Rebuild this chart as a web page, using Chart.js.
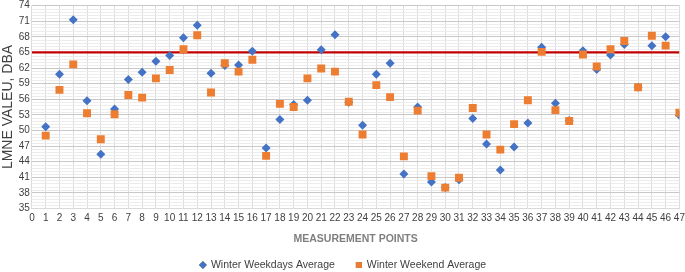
<!DOCTYPE html>
<html><head><meta charset="utf-8">
<script src="https://cdn.jsdelivr.net/npm/chart.js@4/dist/chart.umd.min.js"></script>
<style>html,body{margin:0;padding:0;background:#fff}#wrap{width:685px;height:272px}</style>
</head><body><div id="wrap"><canvas id="c" width="685" height="272"></canvas></div>
<script>
const points = [1,2,3,4,5,6,7,8,9,10,11,12,13,14,15,16,17,18,19,20,21,22,23,24,25,26,27,28,29,30,31,32,33,34,35,36,37,38,39,40,41,42,43,44,45,46,47];
const weekdays = [50.7,60.8,71.3,55.7,45.4,54.1,59.8,61.2,63.3,64.4,67.8,70.2,61.0,62.5,62.6,65.2,46.6,52.1,55.0,55.8,65.5,68.4,55.4,51.0,60.8,62.9,41.6,54.5,40.1,39.0,40.5,52.3,47.4,42.4,46.8,51.4,66.0,55.2,51.9,65.3,61.7,64.5,66.5,58.3,66.3,68.0,52.9];
const weekend = [49.0,57.8,62.7,53.3,48.3,53.1,56.8,56.3,60.0,61.6,65.6,68.3,57.3,62.9,61.3,63.6,45.1,55.1,54.5,60.0,61.9,61.3,55.5,49.2,58.7,56.4,45.0,53.8,41.2,39.0,40.9,54.3,49.2,46.3,51.2,55.8,65.1,53.9,51.8,64.6,62.3,65.6,67.2,58.3,68.2,66.3,53.4];
const limit = 65;
const yMin = 35, yMax = 74, yStep = 3;
const xMin = 0, xMax = 47;
const seriesNames = ['Winter Weekdays Average','Winter Weekend Average'];

const FONT = "'Liberation Sans Narrow', 'Liberation Sans', Arial, sans-serif";
const BLUE = '#4472C4', ORANGE = '#ED7D31';

const minorGrid = {
  id:'minorGrid',
  beforeDatasetsDraw(chart){
    const {ctx, chartArea:a, scales:{y}} = chart;
    ctx.save();
    ctx.strokeStyle = '#ececec';
    ctx.lineWidth = 1;
    for(let v=yMin; v<=yMax+1e-6; v+=0.6){
      if (Math.abs((v-yMin)/yStep - Math.round((v-yMin)/yStep))<1e-6) continue;
      const py = Math.round(y.getPixelForValue(v))+0.5;
      ctx.beginPath(); ctx.moveTo(a.left,py); ctx.lineTo(a.right,py); ctx.stroke();
    }
    ctx.restore();
  }
};

const bottomLegend = {
  id:'bottomLegend',
  afterDraw(chart){
    const ctx = chart.ctx;
    const ds = chart.data.datasets;
    ctx.save();
    ctx.font = '10.5px ' + FONT;
    ctx.textBaseline = 'middle';
    const y = 265, markW = 8, gapMark = 4, gapItem = 20;
    const items = [0,1].map(i=>({ds:ds[i], w: ctx.measureText(ds[i].label).width}));
    const total = items.reduce((s,it)=>s+markW+gapMark+it.w,0) + gapItem;
    let x = chart.width/2 - total/2;
    items.forEach(it=>{
      Chart.helpers.drawPoint(ctx, {pointStyle: it.ds.pointStyle, radius: it.ds.pointStyle==='rect'?4.2:3.8, borderWidth:0}, x+markW/2, y);
      ctx.fillStyle = it.ds.backgroundColor; ctx.fill();
      ctx.fillStyle = '#404040';
      ctx.fillText(it.ds.label, x+markW+gapMark, y+0.5);
      x += markW+gapMark+it.w+gapItem;
    });
    ctx.restore();
  }
};

new Chart(document.getElementById('c'), {
  type:'scatter',
  data:{
    datasets:[
      {label:seriesNames[0], data:points.map((p,i)=>({x:p,y:weekdays[i]})), pointStyle:'rectRot', pointRadius:4.5, pointHoverRadius:4.5, backgroundColor:BLUE, borderColor:BLUE, borderWidth:0, order:2},
      {label:seriesNames[1], data:points.map((p,i)=>({x:p,y:weekend[i]})), pointStyle:'rect', pointRadius:5.6, pointHoverRadius:5.6, backgroundColor:ORANGE, borderColor:ORANGE, borderWidth:0, order:1},
      {label:'limit', type:'line', data:[{x:xMin,y:limit},{x:xMax,y:limit}], borderColor:'#C00000', borderWidth:2.2, pointRadius:0, order:3}
    ]
  },
  plugins:[minorGrid, bottomLegend],
  options:{
    responsive:false, animation:false,
    layout:{padding:{left:0,right:5,top:5,bottom:0}},
    plugins:{ tooltip:{enabled:false}, legend:{display:false} },
    scales:{
      x:{type:'linear', min:xMin, max:xMax,
        afterFit(s){ s.paddingRight = 0; },
        ticks:{stepSize:1, autoSkip:false, maxRotation:0, color:'#404040', font:{family:FONT,size:10}, padding:4},
        grid:{color:'#dcdcdc', drawTicks:false},
        border:{color:'#d9d9d9'},
        title:{display:true, text:'MEASUREMENT POINTS', color:'#7f7f7f', font:{family:FONT,size:10.5,weight:'bold'}, padding:{top:4,bottom:27}}},
      y:{min:yMin, max:yMax,
        afterFit(s){ s.paddingTop = 0; },
        ticks:{stepSize:yStep, autoSkip:false, color:'#404040', font:{family:FONT,size:10}, padding:2},
        grid:{color:'#c8c8c8', drawTicks:false},
        border:{display:false},
        title:{display:true, text:'LMNE VALEU, DBA', color:'#404040', font:{family:FONT,size:14}, padding:{top:0,bottom:0}}}
    }
  }
});
</script></body></html>
